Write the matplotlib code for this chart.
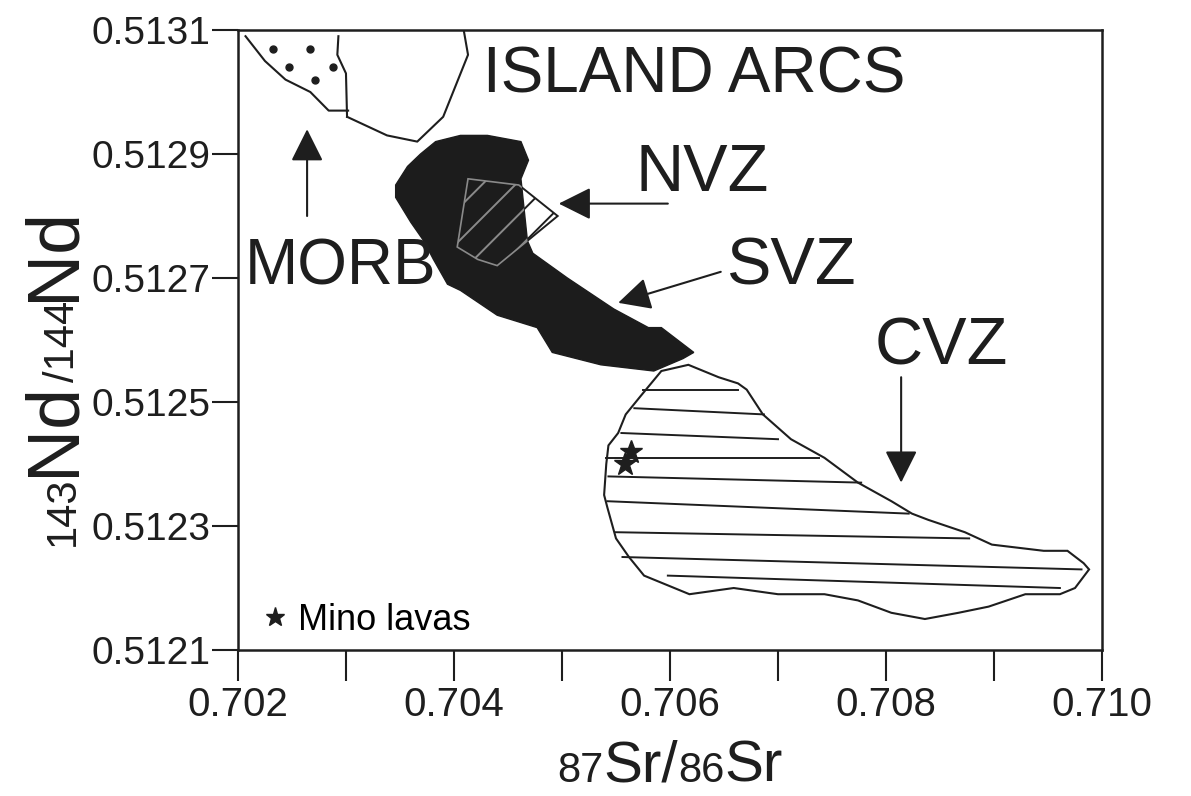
import matplotlib
matplotlib.use('Agg')
import matplotlib.pyplot as plt
from matplotlib.patches import Polygon
from matplotlib.lines import Line2D

plt.rcParams['font.family'] = ['Liberation Sans', 'DejaVu Sans']
plt.rcParams['hatch.linewidth'] = 1.4

INK = '#1e1e1e'

# field boundaries (87Sr/86Sr, 143Nd/144Nd)
morb_edge_sr = [0.70207, 0.70225, 0.70244, 0.70267, 0.70284, 0.70302]
morb_edge_nd = [0.51309, 0.51305, 0.51302, 0.51300, 0.51297, 0.51297]
morb_split_sr = [0.70293, 0.70292, 0.70300, 0.70301]
morb_split_nd = [0.51309, 0.51306, 0.51303, 0.51296]
arcs_edge_sr = [0.70301, 0.70338, 0.70366, 0.70390, 0.70413, 0.70409]
arcs_edge_nd = [0.51296, 0.51293, 0.51292, 0.51296, 0.51306, 0.51310]
morb_dots_sr = [0.70232, 0.70267, 0.70247, 0.70288, 0.70271]
morb_dots_nd = [0.51307, 0.51307, 0.51304, 0.51304, 0.51302]

svz_sr = [0.70369, 0.70383, 0.70406, 0.70431, 0.70462, 0.70469, 0.70462, 0.70465,
          0.70468, 0.70473, 0.70505, 0.70548, 0.70580, 0.70592, 0.70622, 0.70612,
          0.70585, 0.70536, 0.70491, 0.70477, 0.70440, 0.70406, 0.70394, 0.70381,
          0.70372, 0.70360, 0.70346, 0.70346, 0.70357]
svz_nd = [0.51290, 0.51292, 0.51293, 0.51293, 0.51292, 0.51289, 0.51286, 0.51281,
          0.51276, 0.51274, 0.51270, 0.51265, 0.51262, 0.51262, 0.51258, 0.51257,
          0.51255, 0.51256, 0.51258, 0.51262, 0.51264, 0.51268, 0.51269, 0.51273,
          0.51276, 0.51279, 0.51283, 0.51285, 0.51288]

nvz_sr = [0.70413, 0.70403, 0.70422, 0.70440, 0.70468, 0.70496, 0.70460]
nvz_nd = [0.51286, 0.51275, 0.51273, 0.51272, 0.51276, 0.51280, 0.51285]

cvz_sr = [0.70617, 0.70645, 0.70663, 0.70671, 0.70686, 0.70712, 0.70743, 0.70774,
          0.70805, 0.70824, 0.70839, 0.70873, 0.70898, 0.70946, 0.70968, 0.70983,
          0.70988, 0.70975, 0.70961, 0.70929, 0.70895, 0.70867, 0.70836, 0.70805,
          0.70774, 0.70743, 0.70700, 0.70659, 0.70618, 0.70576, 0.70562, 0.70550,
          0.70542, 0.70539, 0.70541, 0.70543, 0.70552, 0.70559, 0.70573, 0.70592]
cvz_nd = [0.51256, 0.51254, 0.51253, 0.51252, 0.51248, 0.51244, 0.51241, 0.51237,
          0.51234, 0.51232, 0.51231, 0.51229, 0.51227, 0.51226, 0.51226, 0.51224,
          0.51223, 0.51220, 0.51219, 0.51219, 0.51217, 0.51216, 0.51215, 0.51216,
          0.51218, 0.51219, 0.51219, 0.51220, 0.51219, 0.51222, 0.51225, 0.51228,
          0.51233, 0.51235, 0.51240, 0.51243, 0.51245, 0.51248, 0.51251, 0.51255]

# hand drawn shading strokes inside the CVZ field
cvz_hatch_sr0 = [0.70575, 0.70567, 0.70555, 0.70541, 0.70543, 0.70542, 0.70550, 0.70556, 0.70598]
cvz_hatch_sr1 = [0.70663, 0.70687, 0.70700, 0.70738, 0.70777, 0.70821, 0.70877, 0.70981, 0.70961]
cvz_hatch_nd0 = [0.51252, 0.51249, 0.51245, 0.51241, 0.51238, 0.51234, 0.51229, 0.51225, 0.51222]
cvz_hatch_nd1 = [0.51252, 0.51248, 0.51244, 0.51241, 0.51237, 0.51232, 0.51228, 0.51223, 0.51220]

mino_sr = [0.70564, 0.70558]
mino_nd = [0.51242, 0.51240]

# field labels and their arrows (tail -> head)
labels = ['ISLAND ARCS', 'MORB', 'NVZ', 'SVZ', 'CVZ']
label_sr = [0.70427, 0.70206, 0.70568, 0.70652, 0.70789]
label_nd = [0.51300, 0.51269, 0.51284, 0.51269, 0.51256]
arrow_tail_sr = [0.70264, 0.70598, 0.70647, 0.70814]
arrow_tail_nd = [0.51280, 0.51282, 0.51271, 0.51254]
arrow_head_sr = [0.70264, 0.70497, 0.70552, 0.70814]
arrow_head_nd = [0.51294, 0.51282, 0.51266, 0.51237]

sr_ticks = [0.702, 0.704, 0.706, 0.708, 0.710]
sr_tick_labels = ['0.702', '0.704', '0.706', '0.708', '0.710']
sr_minor = [0.703, 0.705, 0.707, 0.709]
nd_ticks = [0.5121, 0.5123, 0.5125, 0.5127, 0.5129, 0.5131]
nd_tick_labels = ['0.5121', '0.5123', '0.5125', '0.5127', '0.5129', '0.5131']

fig = plt.figure(figsize=(11.91, 7.96), dpi=100)
ax = fig.add_axes([0.1998, 0.1834, 0.7255, 0.7789])
ax.set_xlim(0.702, 0.710)
ax.set_ylim(0.5121, 0.5131)

# MORB / island arc outlines
ax.plot(morb_edge_sr, morb_edge_nd, color=INK, lw=1.5)
ax.plot(morb_split_sr, morb_split_nd, color=INK, lw=1.5)
ax.plot(arcs_edge_sr, arcs_edge_nd, color=INK, lw=1.5)
ax.plot(morb_dots_sr, morb_dots_nd, 'o', color=INK, ms=5)

# CVZ field
cvz = Polygon(list(zip(cvz_sr, cvz_nd)), closed=True, facecolor='white', edgecolor=INK, lw=1.5, zorder=2)
ax.add_patch(cvz)
for a, b, c, d in zip(cvz_hatch_sr0, cvz_hatch_sr1, cvz_hatch_nd0, cvz_hatch_nd1):
    ax.plot([a, b], [c, d], color=INK, lw=1.4, zorder=2.5)

# NVZ (white part outside SVZ), SVZ black field, then NVZ seen through the black
nvz = Polygon(list(zip(nvz_sr, nvz_nd)), closed=True, facecolor='white', edgecolor=INK, hatch='/', lw=1.4, zorder=3)
ax.add_patch(nvz)
svz = Polygon(list(zip(svz_sr, svz_nd)), closed=True, facecolor='#1c1c1c', edgecolor='#1c1c1c', lw=1, zorder=4)
ax.add_patch(svz)
nvz_in = Polygon(list(zip(nvz_sr, nvz_nd)), closed=True, facecolor='none', edgecolor='#8a8a8a', hatch='/', lw=1.2, zorder=5)
ax.add_patch(nvz_in)
nvz_in.set_clip_path(svz)

ax.plot(mino_sr, mino_nd, '*', color=INK, ms=17, zorder=6)

for s, x, y in zip(labels, label_sr, label_nd):
    ax.text(x, y, s, fontsize=48 if s in ('NVZ', 'SVZ', 'CVZ') else 46, color=INK, ha='left', va='baseline', zorder=7)

for x0, y0, x1, y1 in zip(arrow_tail_sr, arrow_tail_nd, arrow_head_sr, arrow_head_nd):
    ax.annotate('', xy=(x1, y1), xytext=(x0, y0),
                arrowprops=dict(arrowstyle='-|>,head_length=1.0,head_width=0.5', mutation_scale=20,
                                color=INK, lw=1.5, shrinkA=0, shrinkB=0), zorder=7)

star = Line2D([], [], marker='*', ls='none', color=INK, ms=14, label='Mino lavas')
ax.legend(handles=[star], loc='lower left', bbox_to_anchor=(0.028, 0.02), frameon=False, fontsize=26,
          handlelength=0.7, handletextpad=0.3, borderpad=0, borderaxespad=0, numpoints=1)

ax.set_xticks(sr_ticks, labels=sr_tick_labels)
ax.set_xticks(sr_minor, minor=True)
ax.set_yticks(nd_ticks, labels=nd_tick_labels)
ax.tick_params(axis='x', which='both', direction='out', length=22, width=1.5, pad=4, labelsize=29, colors=INK)
ax.tick_params(axis='y', direction='out', length=19, width=1.5, pad=1, labelsize=28, colors=INK)
for sp in ax.spines.values():
    sp.set_linewidth(1.8)
    sp.set_color(INK)

# axis titles with small isotope mass numbers sitting on the baseline
renderer = fig.canvas.get_renderer()
W, H = fig.bbox.width, fig.bbox.height

def isotope_label(pieces, x0, y0, vertical):
    pos = 0.0
    for s, size in pieces:
        if vertical:
            t = fig.text(x0, y0 + pos / H, s, fontsize=size, rotation=90, rotation_mode='anchor',
                         ha='left', va='baseline', color=INK)
            pos += t.get_window_extent(renderer).height
        else:
            t = fig.text(x0 + pos / W, y0, s, fontsize=size, ha='left', va='baseline', color=INK)
            pos += t.get_window_extent(renderer).width

isotope_label([('87', 30), ('Sr/', 42), ('86', 30), ('Sr', 42)], 557 / W, 14 / H, False)
isotope_label([('143', 30), ('Nd', 53), ('/144', 30), ('Nd', 53)], 74 / W, 250 / H, True)

fig.savefig('out.png', dpi=100)
